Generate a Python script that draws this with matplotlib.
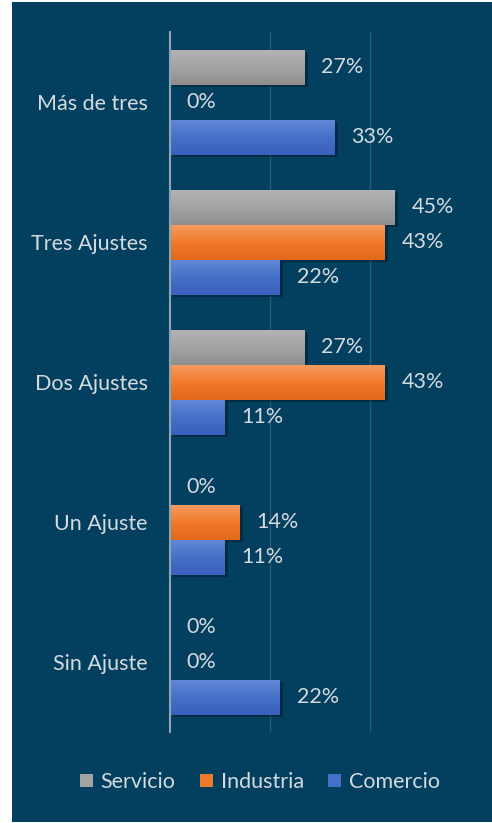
import matplotlib
matplotlib.use("Agg")
from matplotlib import pyplot as plt
from matplotlib.patches import Rectangle
from matplotlib.colors import LinearSegmentedColormap
import matplotlib.patheffects as pe
import numpy as np

categories = ["Sin Ajuste", "Un Ajuste", "Dos Ajustes", "Tres Ajustes", "Más de tres"]
series = ["Servicio", "Industria", "Comercio"]
servicio = [0.00, 0.00, 0.27, 0.45, 0.27]
industria = [0.00, 0.14, 0.43, 0.43, 0.00]
comercio = [0.22, 0.11, 0.11, 0.22, 0.33]
colors = ["#a3a3a3", "#f07a2c", "#4470c8"]
# top / bottom shades for the bar gradients
shades = [("#b3b3b3", "#8f8f8f"), ("#f59a5e", "#e2681b"), ("#6188d6", "#3a60bd")]

bg = "#033f5e"
txt = "#d4dade"
plt.rcParams["font.family"] = ["Lato", "DejaVu Sans"]

W, H = 492, 823
fig = plt.figure(figsize=(W / 100, H / 100), dpi=100, facecolor="white")
fig.add_artist(Rectangle((12 / W, 1 / H), 1 - 12 / W, 1 - 3 / H,
                         transform=fig.transFigure, facecolor=bg,
                         edgecolor="none", zorder=-10))

ax = fig.add_axes([170 / W, 1 - 732 / H, 300 / W, 700 / H])
ax.set_facecolor("none")

y = np.arange(len(categories))
h = 0.25
shadow = [pe.SimplePatchShadow(offset=(2, -2), shadow_rgbFace="#001a2a", alpha=0.5),
          pe.Normal()]
grad = np.linspace(0, 1, 50).reshape(-1, 1)
handles = []
for k, (vals, col) in enumerate(zip([servicio, industria, comercio], colors)):
    pos = y + (1 - k) * h
    bars = ax.barh(pos, vals, height=h, color=col, zorder=3)
    cmap = LinearSegmentedColormap.from_list(series[k], [shades[k][0], col, shades[k][1]])
    for b, p, v in zip(bars, pos, vals):
        b.set_path_effects(shadow)
        if v > 0:
            ax.imshow(grad, extent=(0, v, p - h / 2, p + h / 2), origin="upper",
                      aspect="auto", cmap=cmap, zorder=3.5, interpolation="bilinear")
        ax.text(v + 0.033, p, f"{v * 100:.0f}%", va="center", ha="left",
                color=txt, fontsize=15.5)
    handles.append(Rectangle((0, 0), 1, 1, facecolor=col, edgecolor="none"))

ax.set_xlim(0, 0.6)
ax.set_ylim(-0.5, len(categories) - 0.5)
ax.set_xticks([0.2, 0.4, 0.6])
ax.xaxis.grid(True, color="#2c5977", linewidth=1)
ax.set_axisbelow(True)
ax.tick_params(axis="x", length=0, labelbottom=False)
ax.set_yticks(y)
ax.set_yticklabels(categories, color=txt, fontsize=15.5)
ax.tick_params(axis="y", length=0, pad=16)
for s in ["top", "right", "bottom"]:
    ax.spines[s].set_visible(False)
ax.spines["left"].set_color("#8fa3b1")
ax.spines["left"].set_linewidth(1.5)
ax.spines["left"].set_zorder(4)

leg = fig.legend(handles, series, loc="center", bbox_to_anchor=(260 / W, 1 - 782 / H),
                 ncol=3, frameon=False, fontsize=15.5, handlelength=0.6,
                 handleheight=0.6, handletextpad=0.35, columnspacing=1.15)
for t in leg.get_texts():
    t.set_color(txt)

fig.savefig("out.png", dpi=100, facecolor=fig.get_facecolor())
